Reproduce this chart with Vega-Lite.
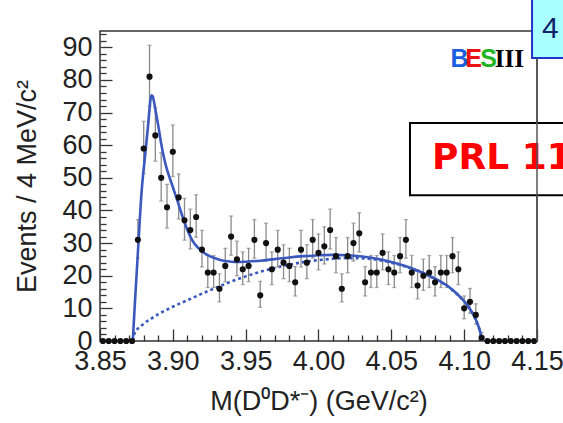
{
  "$schema": "https://vega.github.io/schema/vega-lite/v6.json",
  "width": 437,
  "height": 310,
  "autosize": "none",
  "padding": {"left": 100, "top": 31, "right": 26, "bottom": 82},
  "background": "white",
  "config": {"view": {"stroke": "#333333", "strokeWidth": 1.5}, "font": "Liberation Sans"},
  "resolve": {"axis": {"x": "independent", "y": "independent"}},
  "datasets": {
    "hist": [
      {"m": 3.852, "v": 0}, {"m": 3.856, "v": 0}, {"m": 3.860, "v": 0}, {"m": 3.864, "v": 0}, {"m": 3.868, "v": 0}, {"m": 3.872, "v": 0},
      {"m": 3.876, "v": 31, "lo": 25.4, "hi": 37.2},
      {"m": 3.880, "v": 59, "lo": 51.3, "hi": 67.3},
      {"m": 3.884, "v": 81, "lo": 72.0, "hi": 90.6},
      {"m": 3.888, "v": 63, "lo": 55.1, "hi": 71.5},
      {"m": 3.892, "v": 50, "lo": 42.9, "hi": 57.7},
      {"m": 3.896, "v": 41, "lo": 34.6, "hi": 48.0},
      {"m": 3.900, "v": 58, "lo": 50.4, "hi": 66.2},
      {"m": 3.904, "v": 44, "lo": 37.4, "hi": 51.2},
      {"m": 3.908, "v": 37, "lo": 30.9, "hi": 43.7},
      {"m": 3.912, "v": 34, "lo": 28.2, "hi": 40.4},
      {"m": 3.916, "v": 38, "lo": 31.8, "hi": 44.8},
      {"m": 3.920, "v": 28, "lo": 22.7, "hi": 33.9},
      {"m": 3.924, "v": 21, "lo": 16.4, "hi": 26.2},
      {"m": 3.928, "v": 21, "lo": 16.4, "hi": 26.2},
      {"m": 3.932, "v": 16, "lo": 12.0, "hi": 20.6},
      {"m": 3.936, "v": 23, "lo": 18.2, "hi": 28.4},
      {"m": 3.940, "v": 32, "lo": 26.3, "hi": 38.3},
      {"m": 3.944, "v": 25, "lo": 20.0, "hi": 30.6},
      {"m": 3.948, "v": 22, "lo": 17.3, "hi": 27.3},
      {"m": 3.952, "v": 23, "lo": 18.2, "hi": 28.4},
      {"m": 3.956, "v": 31, "lo": 25.4, "hi": 37.2},
      {"m": 3.960, "v": 14, "lo": 10.3, "hi": 18.3},
      {"m": 3.964, "v": 30, "lo": 24.5, "hi": 36.1},
      {"m": 3.968, "v": 22, "lo": 17.3, "hi": 27.3},
      {"m": 3.972, "v": 28, "lo": 22.7, "hi": 33.9},
      {"m": 3.976, "v": 24, "lo": 19.1, "hi": 29.5},
      {"m": 3.980, "v": 23, "lo": 18.2, "hi": 28.4},
      {"m": 3.984, "v": 18, "lo": 13.8, "hi": 22.8},
      {"m": 3.988, "v": 28, "lo": 22.7, "hi": 33.9},
      {"m": 3.992, "v": 24, "lo": 19.1, "hi": 29.5},
      {"m": 3.996, "v": 31, "lo": 25.4, "hi": 37.2},
      {"m": 4.000, "v": 27, "lo": 21.8, "hi": 32.8},
      {"m": 4.004, "v": 29, "lo": 23.6, "hi": 35.0},
      {"m": 4.008, "v": 34, "lo": 28.2, "hi": 40.4},
      {"m": 4.012, "v": 26, "lo": 20.9, "hi": 31.7},
      {"m": 4.016, "v": 16, "lo": 12.0, "hi": 20.6},
      {"m": 4.020, "v": 26, "lo": 20.9, "hi": 31.7},
      {"m": 4.024, "v": 30, "lo": 24.5, "hi": 36.1},
      {"m": 4.028, "v": 33, "lo": 27.3, "hi": 39.3},
      {"m": 4.032, "v": 18, "lo": 13.8, "hi": 22.8},
      {"m": 4.036, "v": 21, "lo": 16.4, "hi": 26.2},
      {"m": 4.040, "v": 21, "lo": 16.4, "hi": 26.2},
      {"m": 4.044, "v": 27, "lo": 21.8, "hi": 32.8},
      {"m": 4.048, "v": 22, "lo": 17.3, "hi": 27.3},
      {"m": 4.052, "v": 21, "lo": 16.4, "hi": 26.2},
      {"m": 4.056, "v": 26, "lo": 20.9, "hi": 31.7},
      {"m": 4.060, "v": 31, "lo": 25.4, "hi": 37.2},
      {"m": 4.064, "v": 21, "lo": 16.4, "hi": 26.2},
      {"m": 4.068, "v": 17, "lo": 12.9, "hi": 21.7},
      {"m": 4.072, "v": 20, "lo": 15.5, "hi": 25.1},
      {"m": 4.076, "v": 21, "lo": 16.4, "hi": 26.2},
      {"m": 4.080, "v": 18, "lo": 13.8, "hi": 22.8},
      {"m": 4.084, "v": 21, "lo": 16.4, "hi": 26.2},
      {"m": 4.088, "v": 21, "lo": 16.4, "hi": 26.2},
      {"m": 4.092, "v": 26, "lo": 20.9, "hi": 31.7},
      {"m": 4.096, "v": 22, "lo": 17.3, "hi": 27.3},
      {"m": 4.100, "v": 10, "lo": 6.8, "hi": 13.8},
      {"m": 4.104, "v": 12, "lo": 8.5, "hi": 16.1},
      {"m": 4.108, "v": 8, "lo": 5.2, "hi": 11.4},
      {"m": 4.112, "v": 1, "lo": 0.0, "hi": 2.6},
      {"m": 4.116, "v": 0}, {"m": 4.120, "v": 0}, {"m": 4.124, "v": 0}, {"m": 4.128, "v": 0}, {"m": 4.132, "v": 0},
      {"m": 4.136, "v": 0}, {"m": 4.140, "v": 0}, {"m": 4.144, "v": 0}, {"m": 4.148, "v": 0}
    ],
    "fit": [
      {"m": 3.8725, "v": 0}, {"m": 3.874, "v": 12}, {"m": 3.876, "v": 27}, {"m": 3.8786, "v": 46},
      {"m": 3.881, "v": 57}, {"m": 3.883, "v": 66}, {"m": 3.8843, "v": 72.5}, {"m": 3.8852, "v": 75.3},
      {"m": 3.8862, "v": 75}, {"m": 3.887, "v": 73.5}, {"m": 3.888, "v": 71}, {"m": 3.889, "v": 68.5},
      {"m": 3.890, "v": 66}, {"m": 3.892, "v": 60.5}, {"m": 3.894, "v": 56}, {"m": 3.896, "v": 52.5},
      {"m": 3.898, "v": 49.8}, {"m": 3.900, "v": 47.2}, {"m": 3.902, "v": 44.5}, {"m": 3.904, "v": 41.8},
      {"m": 3.906, "v": 39}, {"m": 3.908, "v": 36.4}, {"m": 3.910, "v": 34}, {"m": 3.912, "v": 32},
      {"m": 3.914, "v": 30.4}, {"m": 3.916, "v": 29.2}, {"m": 3.918, "v": 28.3}, {"m": 3.920, "v": 27.5},
      {"m": 3.924, "v": 26.3}, {"m": 3.928, "v": 25.5}, {"m": 3.932, "v": 24.9}, {"m": 3.936, "v": 24.5},
      {"m": 3.940, "v": 24.3}, {"m": 3.945, "v": 24.2}, {"m": 3.950, "v": 24.3}, {"m": 3.960, "v": 24.6},
      {"m": 3.970, "v": 25.1}, {"m": 3.980, "v": 25.6}, {"m": 3.990, "v": 26}, {"m": 4.000, "v": 26.3},
      {"m": 4.010, "v": 26.4}, {"m": 4.020, "v": 26.3}, {"m": 4.030, "v": 25.9}, {"m": 4.040, "v": 25.2},
      {"m": 4.050, "v": 24.2}, {"m": 4.060, "v": 22.9}, {"m": 4.070, "v": 21.2}, {"m": 4.080, "v": 19.1},
      {"m": 4.090, "v": 16.4}, {"m": 4.095, "v": 14.5}, {"m": 4.100, "v": 12.2}, {"m": 4.104, "v": 9.8},
      {"m": 4.107, "v": 7.5}, {"m": 4.109, "v": 5.5}, {"m": 4.111, "v": 2.8}, {"m": 4.112, "v": 1.0},
      {"m": 4.1125, "v": 0}
    ],
    "bkg": [
      {"m": 3.8725, "v": 0}, {"m": 3.8735, "v": 2}, {"m": 3.875, "v": 3.3}, {"m": 3.8775, "v": 4.3},
      {"m": 3.880, "v": 5.3}, {"m": 3.885, "v": 6.8}, {"m": 3.890, "v": 8.2}, {"m": 3.895, "v": 9.4},
      {"m": 3.900, "v": 10.5}, {"m": 3.910, "v": 12.5}, {"m": 3.920, "v": 14.5}, {"m": 3.930, "v": 16.4},
      {"m": 3.940, "v": 18.2}, {"m": 3.950, "v": 19.8}, {"m": 3.960, "v": 21.2}, {"m": 3.970, "v": 22.4},
      {"m": 3.980, "v": 23.4}, {"m": 3.990, "v": 24.2}, {"m": 4.000, "v": 24.8}, {"m": 4.010, "v": 25.2},
      {"m": 4.020, "v": 25.4}, {"m": 4.030, "v": 25.3}, {"m": 4.040, "v": 24.9}, {"m": 4.050, "v": 24.0},
      {"m": 4.060, "v": 22.8}, {"m": 4.070, "v": 21.1}, {"m": 4.080, "v": 19.0}, {"m": 4.090, "v": 16.3},
      {"m": 4.095, "v": 14.4}, {"m": 4.100, "v": 12.1}, {"m": 4.104, "v": 9.7}, {"m": 4.107, "v": 7.4},
      {"m": 4.109, "v": 5.4}, {"m": 4.111, "v": 2.8}, {"m": 4.112, "v": 1.0}, {"m": 4.1125, "v": 0}
    ],
    "note": [{"k": 1}]
  },
  "layer": [
    {
      "data": {"name": "bkg"},
      "mark": {"type": "line", "color": "#3a58bd", "strokeWidth": 2.6, "strokeDash": [3, 3], "interpolate": "monotone"},
      "encoding": {
        "x": {"field": "m", "type": "quantitative", "scale": {"domain": [3.85, 4.15], "nice": false, "zero": false}, "axis": null},
        "y": {"field": "v", "type": "quantitative", "scale": {"domain": [0, 95], "nice": false, "zero": false}, "axis": null}
      }
    },
    {
      "data": {"name": "hist"},
      "mark": {"type": "errorbar", "color": "#8a8a8a", "thickness": 1.3, "ticks": {"size": 4, "color": "#8a8a8a"}},
      "encoding": {
        "x": {"field": "m", "type": "quantitative", "scale": {"domain": [3.85, 4.15], "nice": false, "zero": false}, "axis": null},
        "y": {"field": "lo", "type": "quantitative", "scale": {"domain": [0, 95], "nice": false, "zero": false}, "axis": null},
        "y2": {"field": "hi"}
      }
    },
    {
      "data": {"name": "fit"},
      "mark": {"type": "line", "color": "#3a58bd", "strokeWidth": 2.6, "interpolate": "monotone"},
      "encoding": {
        "x": {"field": "m", "type": "quantitative", "scale": {"domain": [3.85, 4.15], "nice": false, "zero": false}, "axis": null},
        "y": {"field": "v", "type": "quantitative", "scale": {"domain": [0, 95], "nice": false, "zero": false}, "axis": null}
      }
    },
    {
      "data": {"name": "hist"},
      "mark": {"type": "point", "filled": true, "color": "#111111", "size": 38, "opacity": 1},
      "encoding": {
        "x": {
          "field": "m", "type": "quantitative",
          "scale": {"domain": [3.85, 4.15], "nice": false, "zero": false},
          "title": "M(D⁰D*⁻) (GeV/c²)",
          "axis": {
            "orient": "bottom",
            "values": [3.85,3.86,3.87,3.88,3.89,3.90,3.91,3.92,3.93,3.94,3.95,3.96,3.97,3.98,3.99,4.00,4.01,4.02,4.03,4.04,4.05,4.06,4.07,4.08,4.09,4.10,4.11,4.12,4.13,4.14,4.15],
            "labelExpr": "round(datum.value*100) % 5 == 0 ? format(datum.value, '.2f') : ''",
            "tickSize": {"condition": {"test": "round(datum.value*100) % 5 == 0", "value": -12}, "value": -6},
            "tickColor": "#333333", "tickWidth": 1.3,
            "domain": false, "grid": false,
            "labelFontSize": 27, "labelColor": "#222222", "labelPadding": 19, "labelFlush": false, "labelOverlap": false,
            "titleFontSize": 27, "titleFontWeight": "normal", "titleColor": "#222222", "titlePadding": 8
          }
        },
        "y": {
          "field": "v", "type": "quantitative",
          "scale": {"domain": [0, 95], "nice": false, "zero": false},
          "title": "Events / 4 MeV/c²",
          "axis": {
            "orient": "left",
            "values": [0,2,4,6,8,10,12,14,16,18,20,22,24,26,28,30,32,34,36,38,40,42,44,46,48,50,52,54,56,58,60,62,64,66,68,70,72,74,76,78,80,82,84,86,88,90,92,94],
            "labelExpr": "datum.value % 10 == 0 ? datum.label : ''",
            "tickSize": {"condition": {"test": "datum.value % 10 == 0", "value": -12}, "value": -6},
            "tickColor": "#333333", "tickWidth": 1.3,
            "domain": false, "grid": false,
            "labelFontSize": 27, "labelColor": "#222222", "labelPadding": 20, "labelFlush": false, "labelOverlap": false,
            "titleFontSize": 27, "titleFontWeight": "normal", "titleColor": "#222222", "titlePadding": 20
          }
        }
      }
    },
    {
      "data": {"name": "note"},
      "mark": {"type": "rect", "fill": "white", "stroke": "black", "strokeWidth": 2},
      "encoding": {
        "x": {"datum": 4.0628, "type": "quantitative", "scale": {"domain": [3.85, 4.15], "nice": false, "zero": false}, "axis": null},
        "x2": {"datum": 4.22},
        "y": {"datum": 66.8, "type": "quantitative", "scale": {"domain": [0, 95], "nice": false, "zero": false}, "axis": null},
        "y2": {"datum": 44.7}
      }
    },
    {
      "data": {"name": "note"},
      "mark": {"type": "text", "text": "PRL 112, 022001", "color": "#ff0000", "font": "DejaVu Sans", "fontWeight": "bold", "fontSize": 36, "align": "left", "baseline": "middle"},
      "encoding": {
        "x": {"datum": 4.078, "type": "quantitative", "scale": {"domain": [3.85, 4.15], "nice": false, "zero": false}, "axis": null},
        "y": {"datum": 56, "type": "quantitative", "scale": {"domain": [0, 95], "nice": false, "zero": false}, "axis": null}
      }
    },
    {
      "data": {"name": "note"},
      "mark": {"type": "rect", "fill": "#aaffff", "stroke": "#2233cc", "strokeWidth": 2},
      "encoding": {
        "x": {"datum": 4.1466, "type": "quantitative", "scale": {"domain": [3.85, 4.15], "nice": false, "zero": false}, "axis": null},
        "x2": {"datum": 4.22},
        "y": {"datum": 86.7, "type": "quantitative", "scale": {"domain": [0, 95], "nice": false, "zero": false}, "axis": null},
        "y2": {"datum": 115}
      }
    },
    {
      "data": {"name": "note"},
      "mark": {"type": "text", "text": "4", "color": "#10206a", "font": "Liberation Sans", "fontSize": 30, "align": "left", "baseline": "middle"},
      "encoding": {
        "x": {"datum": 4.1535, "type": "quantitative", "scale": {"domain": [3.85, 4.15], "nice": false, "zero": false}, "axis": null},
        "y": {"datum": 95.5, "type": "quantitative", "scale": {"domain": [0, 95], "nice": false, "zero": false}, "axis": null}
      }
    },
    {
      "data": {"name": "note"},
      "mark": {"type": "rule", "color": "#555555", "strokeWidth": 1.5},
      "encoding": {
        "x": {"datum": 4.15, "type": "quantitative", "scale": {"domain": [3.85, 4.15], "nice": false, "zero": false}, "axis": null},
        "y": {"datum": 0, "type": "quantitative", "scale": {"domain": [0, 95], "nice": false, "zero": false}, "axis": null},
        "y2": {"datum": 86.7}
      }
    },
    {
      "data": {"name": "note"},
      "mark": {"type": "text", "text": "B", "color": "#1a5fe0", "font": "Liberation Sans", "fontWeight": "bold", "fontSize": 25, "align": "center", "baseline": "middle"},
      "encoding": {
        "x": {"datum": 4.0968, "type": "quantitative", "scale": {"domain": [3.85, 4.15], "nice": false, "zero": false}, "axis": null},
        "y": {"datum": 86.4, "type": "quantitative", "scale": {"domain": [0, 95], "nice": false, "zero": false}, "axis": null}
      }
    },
    {
      "data": {"name": "note"},
      "mark": {"type": "text", "text": "E", "color": "#ee1111", "font": "Liberation Sans", "fontWeight": "bold", "fontSize": 25, "align": "center", "baseline": "middle"},
      "encoding": {
        "x": {"datum": 4.1065, "type": "quantitative", "scale": {"domain": [3.85, 4.15], "nice": false, "zero": false}, "axis": null},
        "y": {"datum": 86.4, "type": "quantitative", "scale": {"domain": [0, 95], "nice": false, "zero": false}, "axis": null}
      }
    },
    {
      "data": {"name": "note"},
      "mark": {"type": "text", "text": "S", "color": "#22b422", "font": "Liberation Sans", "fontWeight": "bold", "fontSize": 25, "align": "center", "baseline": "middle"},
      "encoding": {
        "x": {"datum": 4.1168, "type": "quantitative", "scale": {"domain": [3.85, 4.15], "nice": false, "zero": false}, "axis": null},
        "y": {"datum": 86.4, "type": "quantitative", "scale": {"domain": [0, 95], "nice": false, "zero": false}, "axis": null}
      }
    },
    {
      "data": {"name": "note"},
      "mark": {"type": "text", "text": "III", "color": "#000000", "font": "Liberation Serif", "fontWeight": "bold", "fontSize": 25, "align": "center", "baseline": "middle"},
      "encoding": {
        "x": {"datum": 4.131, "type": "quantitative", "scale": {"domain": [3.85, 4.15], "nice": false, "zero": false}, "axis": null},
        "y": {"datum": 86.4, "type": "quantitative", "scale": {"domain": [0, 95], "nice": false, "zero": false}, "axis": null}
      }
    }
  ]
}
